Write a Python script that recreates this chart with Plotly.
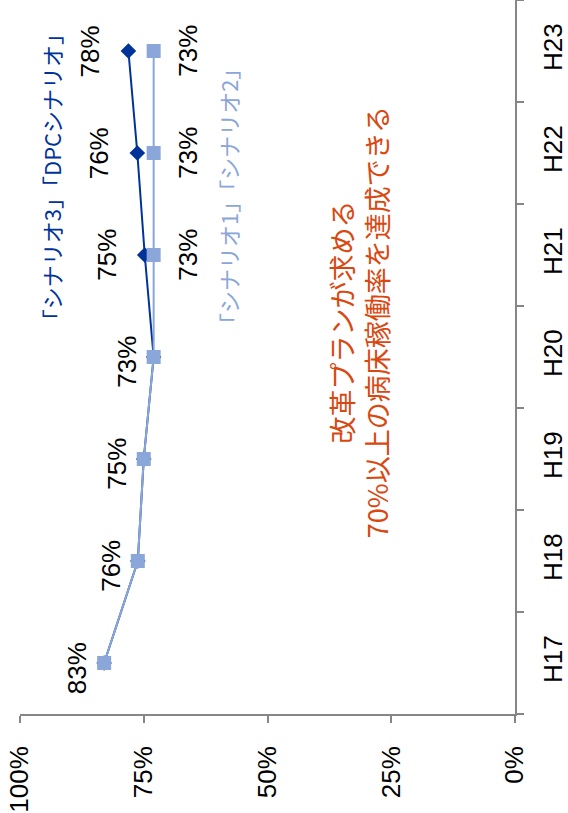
import plotly.graph_objects as go

categories = ["H17", "H18", "H19", "H20", "H21", "H22", "H23"]
scenario3_dpc = [83.0, 76.2, 75.0, 73.0, 74.8, 76.3, 78.1]
scenario1_2 = [83.0, 76.2, 75.0, 73.0, 73.0, 73.0, 73.0]
value_ticks = [0, 25, 50, 75, 100]
value_tick_labels = ["0%", "25%", "50%", "75%", "100%"]

DARK = "#003399"
LIGHT = "#8BA6D8"
RED = "#D9480F"
AXIS = "#868686"
FONT = "Liberation Sans, Arial, sans-serif"
JFONT = "Noto Sans CJK JP, sans-serif"

fig = go.Figure()
fig.add_trace(go.Scatter(
    x=scenario3_dpc, y=categories, mode="lines+markers",
    line=dict(color=DARK, width=2),
    marker=dict(symbol="diamond", size=12, color=DARK),
    name="シナリオ3/DPC", showlegend=False, hoverinfo="skip"))
fig.add_trace(go.Scatter(
    x=scenario1_2, y=categories, mode="lines+markers",
    line=dict(color=LIGHT, width=2),
    marker=dict(symbol="square", size=14, color=LIGHT),
    name="シナリオ1/2", showlegend=False, hoverinfo="skip"))

annotations = []
n_shared = 4
lab_font = dict(family=FONT, size=26, color="black")
for i, cat in enumerate(categories):
    if i < n_shared:
        annotations.append(dict(x=scenario1_2[i], y=cat, xref="x", yref="y",
                                text=f"{round(scenario1_2[i])}%", showarrow=False,
                                xanchor="center", yanchor="middle",
                                textangle=-90, xshift=-27, yshift=-5, font=lab_font))
    else:
        annotations.append(dict(x=scenario3_dpc[i], y=cat, xref="x", yref="y",
                                text=f"{round(scenario3_dpc[i])}%", showarrow=False,
                                xanchor="center", yanchor="middle",
                                textangle=-90, xshift=-38, font=lab_font))
        annotations.append(dict(x=scenario1_2[i], y=cat, xref="x", yref="y",
                                text=f"{round(scenario1_2[i])}%", showarrow=False,
                                xanchor="center", yanchor="middle",
                                textangle=-90, xshift=34, font=lab_font))

annotations.append(dict(x=(52 - 20.6) / 498.2, y=(714 - 177) / 714, xref="paper", yref="paper",
                        xanchor="center", yanchor="middle",
                        text="「シナリオ3」「DPCシナリオ」", showarrow=False, textangle=-90,
                        font=dict(family=JFONT, size=22, color=DARK)))
annotations.append(dict(x=(230 - 20.6) / 498.2, y=(714 - 197) / 714, xref="paper", yref="paper",
                        xanchor="center", yanchor="middle",
                        text="「シナリオ1」「シナリオ2」", showarrow=False, textangle=-90,
                        font=dict(family=JFONT, size=22, color=LIGHT)))
annotations.append(dict(x=(362 - 20.6) / 498.2, y=(714 - 322) / 714, xref="paper", yref="paper",
                        xanchor="center", yanchor="middle",
                        text="改革プランが求める<br>70%以上の病床稼働率を達成できる",
                        showarrow=False, textangle=-90, align="center",
                        font=dict(family=JFONT, size=27, color=RED)))

fig.update_layout(
    width=568, height=813,
    margin=dict(l=20, r=49, t=0, b=99),
    paper_bgcolor="white", plot_bgcolor="white",
    annotations=annotations,
    xaxis=dict(range=[100, 0], tickvals=value_ticks, ticktext=value_tick_labels,
               showgrid=False, zeroline=False, showline=True, linecolor=AXIS, linewidth=1.5,
               ticks="outside", ticklen=7, tickcolor=AXIS, tickwidth=1.5, tickangle=-90,
               ticklabelstandoff=13,
               tickfont=dict(family=FONT, size=26, color="black")),
    yaxis=dict(type="category", categoryarray=categories, range=[-0.5, 6.5], side="right",
               showgrid=False, zeroline=False, showline=True, linecolor=AXIS, linewidth=1.5,
               ticks="outside", ticklen=7, tickcolor=AXIS, tickwidth=1.5, tickson="boundaries",
               tickangle=-90, ticklabelstandoff=14,
               tickfont=dict(family=FONT, size=26, color="black")),
)

fig.write_html("out.html")
